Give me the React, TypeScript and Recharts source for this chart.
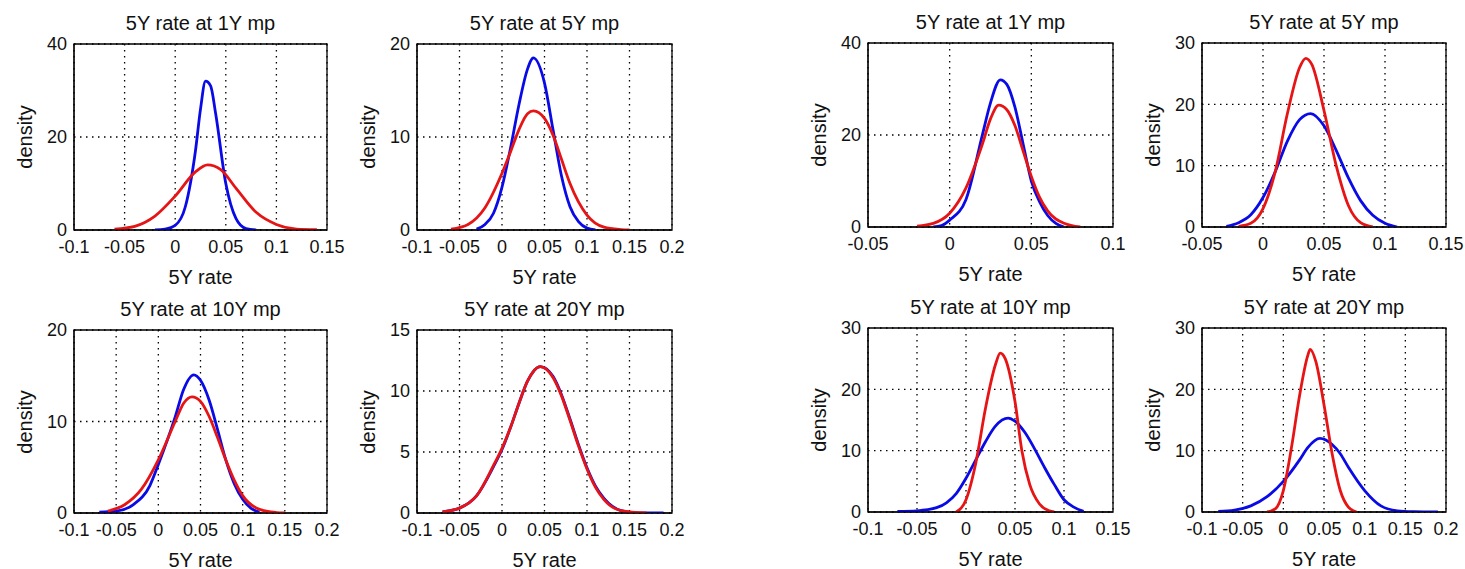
import { LineChart, Line, XAxis, YAxis, CartesianGrid, ReferenceArea } from 'recharts';

type Pt = { x: number; d: number };

// tick labels
const ticksA = [-0.1, -0.05, 0, 0.05, 0.1, 0.15];
const ticksB = [-0.1, -0.05, 0, 0.05, 0.1, 0.15, 0.2];
const ticksC = [-0.05, 0, 0.05, 0.1];
const ticksD = [-0.05, 0, 0.05, 0.1, 0.15];
const yTicks40 = [0, 20, 40];
const yTicks30 = [0, 10, 20, 30];
const yTicks20 = [0, 10, 20];
const yTicks15 = [0, 5, 10, 15];

// left group, 1Y mp
const p1Blue: Pt[] = [
  { x: -0.02, d: 0 }, { x: -0.01, d: 0.2 }, { x: 0, d: 1 }, { x: 0.01, d: 5 }, { x: 0.02, d: 17 },
  { x: 0.025, d: 26 }, { x: 0.03, d: 32 }, { x: 0.035, d: 31 }, { x: 0.04, d: 25 }, { x: 0.05, d: 10 },
  { x: 0.06, d: 2.5 }, { x: 0.07, d: 0.3 }, { x: 0.08, d: 0 },
];
const p1Red: Pt[] = [
  { x: -0.06, d: 0.2 }, { x: -0.04, d: 0.8 }, { x: -0.02, d: 3 }, { x: 0, d: 7.3 }, { x: 0.02, d: 12.5 },
  { x: 0.032, d: 14 }, { x: 0.045, d: 13 }, { x: 0.06, d: 9 }, { x: 0.08, d: 3.8 }, { x: 0.1, d: 1.2 },
  { x: 0.12, d: 0.2 }, { x: 0.14, d: 0.1 },
];
// left group, 5Y mp
const p2Blue: Pt[] = [
  { x: -0.03, d: 0.1 }, { x: -0.02, d: 0.6 }, { x: -0.01, d: 1.8 }, { x: 0, d: 4.6 }, { x: 0.01, d: 8.8 },
  { x: 0.02, d: 13.5 }, { x: 0.03, d: 17.3 }, { x: 0.037, d: 18.5 }, { x: 0.05, d: 15.8 }, { x: 0.06, d: 10.8 },
  { x: 0.07, d: 5.8 }, { x: 0.08, d: 2.5 }, { x: 0.09, d: 0.9 }, { x: 0.1, d: 0.2 }, { x: 0.11, d: 0 },
];
const p2Red: Pt[] = [
  { x: -0.06, d: 0.1 }, { x: -0.04, d: 0.6 }, { x: -0.02, d: 2.4 }, { x: 0, d: 6.1 }, { x: 0.01, d: 8.4 },
  { x: 0.02, d: 10.8 }, { x: 0.03, d: 12.5 }, { x: 0.037, d: 12.8 }, { x: 0.05, d: 12 }, { x: 0.06, d: 10.2 },
  { x: 0.07, d: 7.6 }, { x: 0.08, d: 5 }, { x: 0.1, d: 1.6 }, { x: 0.12, d: 0.3 }, { x: 0.14, d: 0.05 }, { x: 0.15, d: 0 },
];
// left group, 10Y mp
const p3Blue: Pt[] = [
  { x: -0.07, d: 0.1 }, { x: -0.05, d: 0.2 }, { x: -0.03, d: 0.9 }, { x: -0.01, d: 3 }, { x: 0, d: 5.3 },
  { x: 0.02, d: 10.5 }, { x: 0.03, d: 13.5 }, { x: 0.042, d: 15.1 }, { x: 0.05, d: 14.5 }, { x: 0.06, d: 12.4 },
  { x: 0.07, d: 9.2 }, { x: 0.08, d: 5.8 }, { x: 0.09, d: 3.2 }, { x: 0.1, d: 1.5 }, { x: 0.11, d: 0.5 }, { x: 0.12, d: 0.1 },
];
const p3Red: Pt[] = [
  { x: -0.06, d: 0.2 }, { x: -0.04, d: 0.9 }, { x: -0.02, d: 2.6 }, { x: 0, d: 5.8 }, { x: 0.02, d: 10 },
  { x: 0.03, d: 12 }, { x: 0.04, d: 12.7 }, { x: 0.05, d: 12.2 }, { x: 0.06, d: 10.6 }, { x: 0.07, d: 8.3 },
  { x: 0.08, d: 5.8 }, { x: 0.09, d: 3.6 }, { x: 0.1, d: 1.9 }, { x: 0.12, d: 0.4 }, { x: 0.14, d: 0.05 }, { x: 0.15, d: 0 },
];
// left group, 20Y mp
const p4Blue: Pt[] = [
  { x: -0.07, d: 0.1 }, { x: -0.05, d: 0.4 }, { x: -0.03, d: 1.4 }, { x: -0.01, d: 3.8 }, { x: 0, d: 5.2 },
  { x: 0.01, d: 7 }, { x: 0.02, d: 9 }, { x: 0.03, d: 10.8 }, { x: 0.045, d: 12 }, { x: 0.06, d: 11.2 },
  { x: 0.07, d: 9.7 }, { x: 0.08, d: 7.7 }, { x: 0.09, d: 5.6 }, { x: 0.1, d: 3.7 }, { x: 0.11, d: 2.2 },
  { x: 0.12, d: 1.2 }, { x: 0.14, d: 0.2 }, { x: 0.16, d: 0 }, { x: 0.19, d: 0 },
];
const p4Red: Pt[] = [
  { x: -0.07, d: 0.1 }, { x: -0.05, d: 0.4 }, { x: -0.03, d: 1.4 }, { x: -0.01, d: 3.9 }, { x: 0, d: 5.3 },
  { x: 0.01, d: 7 }, { x: 0.02, d: 9 }, { x: 0.03, d: 10.8 }, { x: 0.045, d: 12 }, { x: 0.06, d: 11.1 },
  { x: 0.07, d: 9.6 }, { x: 0.08, d: 7.6 }, { x: 0.09, d: 5.5 }, { x: 0.1, d: 3.6 }, { x: 0.11, d: 2.1 },
  { x: 0.12, d: 1.1 }, { x: 0.14, d: 0.2 }, { x: 0.17, d: 0 },
];
// right group, 1Y mp
const p5Blue: Pt[] = [
  { x: -0.01, d: 0 }, { x: -0.005, d: 0.3 }, { x: 0, d: 1.5 }, { x: 0.01, d: 6 }, { x: 0.02, d: 20 },
  { x: 0.025, d: 27 }, { x: 0.031, d: 32 }, { x: 0.035, d: 31 }, { x: 0.04, d: 26 }, { x: 0.045, d: 18 },
  { x: 0.05, d: 10 }, { x: 0.055, d: 5.5 }, { x: 0.06, d: 2.5 }, { x: 0.065, d: 0.8 }, { x: 0.07, d: 0 },
];
const p5Red: Pt[] = [
  { x: -0.02, d: 0.2 }, { x: -0.01, d: 0.8 }, { x: 0, d: 3 }, { x: 0.01, d: 8.5 }, { x: 0.02, d: 18 },
  { x: 0.025, d: 23.5 }, { x: 0.03, d: 26.5 }, { x: 0.035, d: 25.5 }, { x: 0.04, d: 22 }, { x: 0.045, d: 16.5 },
  { x: 0.05, d: 11 }, { x: 0.055, d: 6.5 }, { x: 0.06, d: 3.5 }, { x: 0.07, d: 0.8 }, { x: 0.08, d: 0 },
];
// right group, 5Y mp
const p6Blue: Pt[] = [
  { x: -0.03, d: 0.1 }, { x: -0.02, d: 0.7 }, { x: -0.01, d: 2 }, { x: 0, d: 4.8 }, { x: 0.01, d: 9 },
  { x: 0.02, d: 14 }, { x: 0.03, d: 17.5 }, { x: 0.039, d: 18.5 }, { x: 0.05, d: 16.5 }, { x: 0.06, d: 12.5 },
  { x: 0.07, d: 8 }, { x: 0.08, d: 4.3 }, { x: 0.09, d: 1.9 }, { x: 0.1, d: 0.6 }, { x: 0.11, d: 0 },
];
const p6Red: Pt[] = [
  { x: -0.02, d: 0.1 }, { x: -0.01, d: 0.6 }, { x: 0, d: 3 }, { x: 0.01, d: 9 }, { x: 0.02, d: 18.5 },
  { x: 0.03, d: 26 }, { x: 0.035, d: 27.5 }, { x: 0.04, d: 26.5 }, { x: 0.05, d: 19 }, { x: 0.06, d: 10 },
  { x: 0.07, d: 3.5 }, { x: 0.08, d: 0.7 }, { x: 0.09, d: 0 },
];
// right group, 10Y mp
const p7Blue: Pt[] = [
  { x: -0.07, d: 0.1 }, { x: -0.05, d: 0.2 }, { x: -0.03, d: 0.7 }, { x: -0.02, d: 1.5 }, { x: -0.01, d: 3 },
  { x: 0, d: 5.5 }, { x: 0.01, d: 8.5 }, { x: 0.02, d: 11.5 }, { x: 0.03, d: 14 }, { x: 0.043, d: 15.3 },
  { x: 0.05, d: 14.8 }, { x: 0.06, d: 13 }, { x: 0.07, d: 10.3 }, { x: 0.08, d: 7.3 }, { x: 0.09, d: 4.5 },
  { x: 0.1, d: 2 }, { x: 0.11, d: 0.8 }, { x: 0.12, d: 0.1 },
];
const p7Red: Pt[] = [
  { x: -0.01, d: 0 }, { x: 0, d: 2 }, { x: 0.01, d: 8 }, { x: 0.02, d: 17 }, { x: 0.03, d: 24 },
  { x: 0.035, d: 25.9 }, { x: 0.04, d: 25 }, { x: 0.05, d: 18 }, { x: 0.057, d: 10 }, { x: 0.065, d: 4.5 },
  { x: 0.075, d: 1.3 }, { x: 0.085, d: 0.2 }, { x: 0.09, d: 0 },
];
// right group, 20Y mp
const p8Blue: Pt[] = [
  { x: -0.08, d: 0.1 }, { x: -0.06, d: 0.3 }, { x: -0.04, d: 1 }, { x: -0.02, d: 2.5 }, { x: 0, d: 5 },
  { x: 0.02, d: 8.5 }, { x: 0.03, d: 10.5 }, { x: 0.045, d: 12 }, { x: 0.06, d: 11 }, { x: 0.07, d: 9.5 },
  { x: 0.08, d: 7.3 }, { x: 0.1, d: 3.5 }, { x: 0.12, d: 1 }, { x: 0.14, d: 0.2 }, { x: 0.16, d: 0.05 }, { x: 0.19, d: 0 },
];
const p8Red: Pt[] = [
  { x: -0.02, d: 0 }, { x: -0.01, d: 0.5 }, { x: 0, d: 3.5 }, { x: 0.01, d: 10.5 }, { x: 0.02, d: 19 },
  { x: 0.03, d: 25.5 }, { x: 0.033, d: 26.5 }, { x: 0.04, d: 24.5 }, { x: 0.05, d: 17.5 }, { x: 0.06, d: 9.5 },
  { x: 0.07, d: 3.5 }, { x: 0.08, d: 0.8 }, { x: 0.09, d: 0 },
];

const BLUE = '#0a0ae6';
const RED = '#e61414';

const panels = [
  { title: '5Y rate at 1Y mp', left: 74, top: 44, w: 253, h: 186, xTicks: ticksA, yTicks: yTicks40, blue: p1Blue, red: p1Red },
  { title: '5Y rate at 5Y mp', left: 417, top: 44, w: 255, h: 186, xTicks: ticksB, yTicks: yTicks20, blue: p2Blue, red: p2Red },
  { title: '5Y rate at 10Y mp', left: 74, top: 330, w: 253, h: 183, xTicks: ticksB, yTicks: yTicks20, blue: p3Blue, red: p3Red },
  { title: '5Y rate at 20Y mp', left: 417, top: 330, w: 255, h: 183, xTicks: ticksB, yTicks: yTicks15, blue: p4Blue, red: p4Red },
  { title: '5Y rate at 1Y mp', left: 868, top: 43, w: 245, h: 184, xTicks: ticksC, yTicks: yTicks40, blue: p5Blue, red: p5Red },
  { title: '5Y rate at 5Y mp', left: 1202, top: 43, w: 244, h: 184, xTicks: ticksD, yTicks: yTicks30, blue: p6Blue, red: p6Red },
  { title: '5Y rate at 10Y mp', left: 868, top: 328, w: 245, h: 184, xTicks: ticksA, yTicks: yTicks30, blue: p7Blue, red: p7Red },
  { title: '5Y rate at 20Y mp', left: 1202, top: 328, w: 244, h: 184, xTicks: ticksB, yTicks: yTicks30, blue: p8Blue, red: p8Red },
];

type PanelDef = (typeof panels)[number];

const ML = 60;
const MT = 10;
const MR = 30;
const MB = 40;

function Panel({ p }: { p: PanelDef }) {
  const xMin = p.xTicks[0];
  const xMax = p.xTicks[p.xTicks.length - 1];
  const yMax = p.yTicks[p.yTicks.length - 1];
  const cx = p.left + p.w / 2;
  return (
    <>
      <div style={{ position: 'absolute', left: cx, top: p.top - 21, transform: 'translate(-50%, -50%)', fontSize: 20, whiteSpace: 'nowrap', color: '#111' }}>
        {p.title}
      </div>
      <div style={{ position: 'absolute', left: p.left - 49, top: p.top + p.h / 2, transform: 'translate(-50%, -50%) rotate(-90deg)', fontSize: 20, whiteSpace: 'nowrap', color: '#111' }}>
        density
      </div>
      <div style={{ position: 'absolute', left: cx, top: p.top + p.h + 47, transform: 'translate(-50%, -50%)', fontSize: 20, whiteSpace: 'nowrap', color: '#111' }}>
        5Y rate
      </div>
      <div style={{ position: 'absolute', left: p.left - ML, top: p.top - MT }}>
        <LineChart width={p.w + ML + MR} height={p.h + MT + MB} margin={{ top: MT, right: MR, left: 0, bottom: 0 }}>
          <CartesianGrid stroke="#000" strokeDasharray="1.5 4.5" strokeWidth={1.3} />
          <XAxis
            type="number"
            dataKey="x"
            domain={[xMin, xMax]}
            ticks={p.xTicks}
            interval={0}
            allowDataOverflow
            height={MB}
            tickLine={false}
            axisLine={{ stroke: '#000' }}
            tick={{ fill: '#111', fontSize: 18 }}
            tickMargin={4}
          />
          <YAxis
            type="number"
            domain={[0, yMax]}
            ticks={p.yTicks}
            interval={0}
            allowDataOverflow
            width={ML}
            tickLine={false}
            axisLine={{ stroke: '#000' }}
            tick={{ fill: '#111', fontSize: 18 }}
            tickMargin={1}
          />
          <ReferenceArea x1={xMin} x2={xMax} y1={0} y2={yMax} fill="none" stroke="#000" strokeWidth={1.3} ifOverflow="visible" />
          <Line data={p.blue} dataKey="d" type="monotone" stroke={BLUE} strokeWidth={2.8} dot={false} isAnimationActive={false} />
          <Line data={p.red} dataKey="d" type="monotone" stroke={RED} strokeWidth={2.8} dot={false} isAnimationActive={false} />
        </LineChart>
      </div>
    </>
  );
}

export default function App() {
  return (
    <div style={{ position: 'absolute', left: 0, top: 0, width: 1465, height: 569, background: '#fff', fontFamily: '"Liberation Sans", Arial, sans-serif', overflow: 'hidden' }}>
      {panels.map((p, i) => (
        <Panel key={i} p={p} />
      ))}
    </div>
  );
}
